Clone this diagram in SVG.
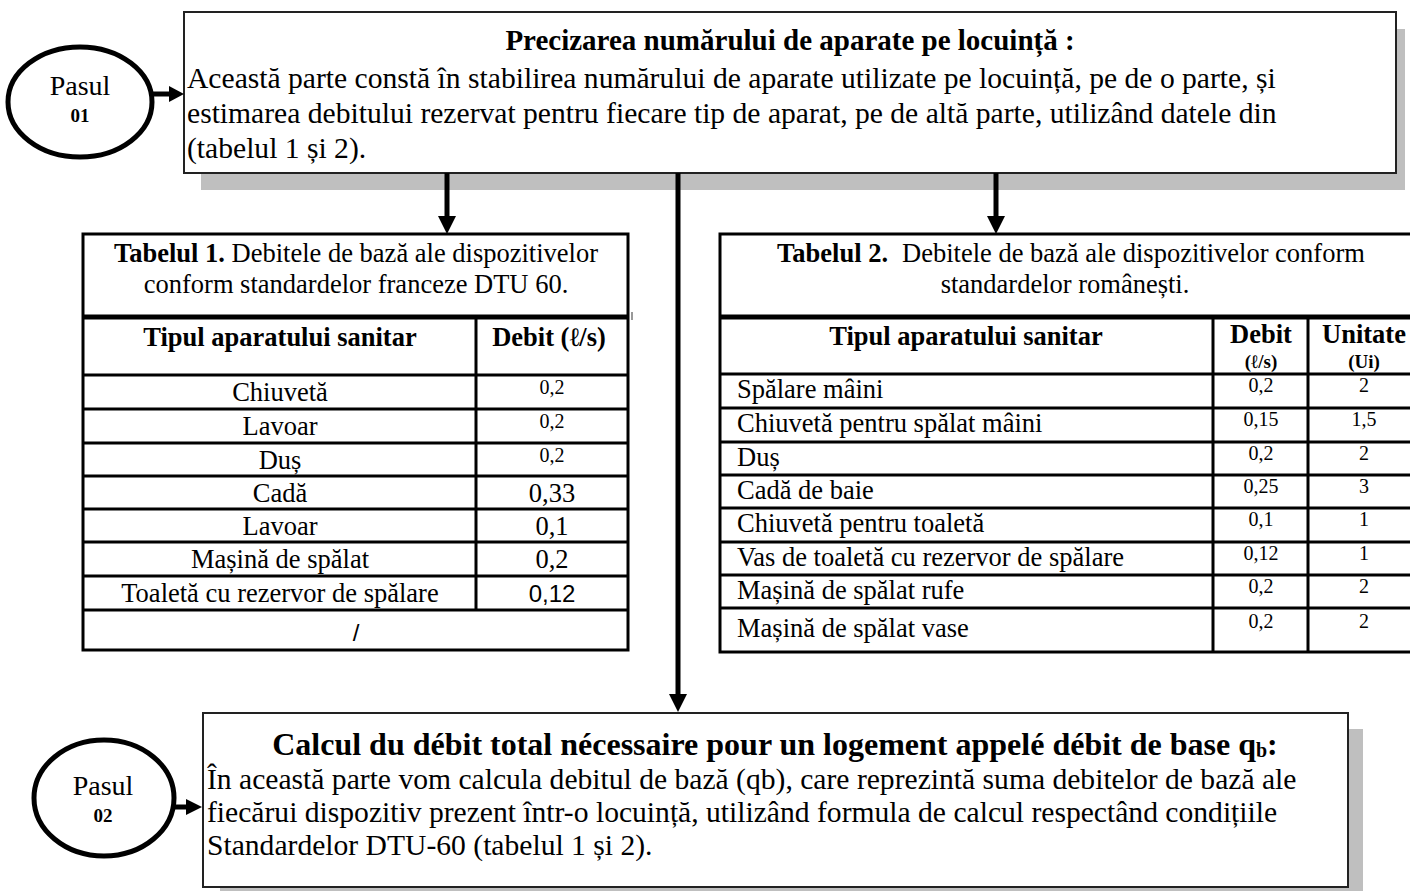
<svg xmlns="http://www.w3.org/2000/svg" width="1410" height="891" viewBox="0 0 1410 891">
<style>
.t{font-family:"Liberation Serif","Times New Roman",serif;fill:#000}
.b{font-weight:bold}
.body{font-size:29.6px}
.cell{font-size:26.5px}
.sm{font-size:20px}
.sans{font-family:"Liberation Sans",Arial,sans-serif}
.box{fill:#fff;stroke:#222;stroke-width:2}
.shadow{fill:#bfbfbf}
.grid{stroke:#000;stroke-width:3;fill:none}
.sep{stroke:#000;stroke-width:5}
.conn{stroke:#000;stroke-width:5;fill:none}
.head{fill:#000}
.step{fill:#fff;stroke:#000;stroke-width:5}
.m{text-anchor:middle}
</style>
<rect width="1410" height="891" fill="#fff"/>

<g id="box1">
<rect class="shadow" x="201" y="29" width="1204" height="161"/>
<rect class="box" x="184" y="12" width="1212" height="161"/>
<text class="t b m" x="790" y="50" font-size="29">Precizarea numărului de aparate pe locuință :</text>
<text class="t body" x="187" y="88">Această parte constă în stabilirea numărului de aparate utilizate pe locuință, pe de o parte, și</text>
<text class="t body" x="187" y="123">estimarea debitului rezervat pentru fiecare tip de aparat, pe de altă parte, utilizând datele din</text>
<text class="t body" x="187" y="158">(tabelul 1 și 2).</text>
</g>

<g id="step1">
<ellipse class="step" cx="80" cy="102" rx="72" ry="55"/>
<text class="t m" x="80" y="95" font-size="28">Pasul</text>
<text class="t b m" x="80" y="122" font-size="19">01</text>
</g>

<g id="table1">
<rect class="grid" x="83" y="234" width="545" height="416" fill="#fff"/>
<line class="sep" x1="83" y1="317" x2="628" y2="317"/>
<rect x="631" y="312" width="2" height="8" fill="#999"/>
<g class="grid">
<line x1="83" y1="375" x2="628" y2="375"/>
<line x1="83" y1="409" x2="628" y2="409"/>
<line x1="83" y1="443" x2="628" y2="443"/>
<line x1="83" y1="476" x2="628" y2="476"/>
<line x1="83" y1="509" x2="628" y2="509"/>
<line x1="83" y1="542" x2="628" y2="542"/>
<line x1="83" y1="576" x2="628" y2="576"/>
<line x1="83" y1="610" x2="628" y2="610"/>
<line x1="476" y1="317" x2="476" y2="610"/>
</g>
<text class="t cell m" x="356" y="262"><tspan class="b">Tabelul 1.</tspan> Debitele de bază ale dispozitivelor</text>
<text class="t cell m" x="356" y="293">conform standardelor franceze DTU 60.</text>
<text class="t cell b m" x="280" y="346">Tipul aparatului sanitar</text>
<text class="t cell b m" x="549" y="346">Debit (ℓ/s)</text>
<text class="t cell m" x="280" y="401">Chiuvetă</text>
<text class="t sm m" x="552" y="394">0,2</text>
<text class="t cell m" x="280" y="435">Lavoar</text>
<text class="t sm m" x="552" y="428">0,2</text>
<text class="t cell m" x="280" y="469">Duș</text>
<text class="t sm m" x="552" y="462">0,2</text>
<text class="t cell m" x="280" y="502">Cadă</text>
<text class="t cell m" x="552" y="502">0,33</text>
<text class="t cell m" x="280" y="535">Lavoar</text>
<text class="t cell m" x="552" y="535">0,1</text>
<text class="t cell m" x="280" y="568">Mașină de spălat</text>
<text class="t cell m" x="552" y="568">0,2</text>
<text class="t cell m" x="280" y="602">Toaletă cu rezervor de spălare</text>
<text class="t sans m" x="552" y="602" font-size="24">0,12</text>
<text class="t sans m" x="356" y="641" font-size="24">/</text>
</g>

<g id="table2">
<rect class="grid" x="720" y="234" width="694" height="418" fill="#fff"/>
<line class="sep" x1="720" y1="317" x2="1414" y2="317"/>
<g class="grid">
<line x1="720" y1="374" x2="1414" y2="374"/>
<line x1="720" y1="408" x2="1414" y2="408"/>
<line x1="720" y1="442" x2="1414" y2="442"/>
<line x1="720" y1="475" x2="1414" y2="475"/>
<line x1="720" y1="508" x2="1414" y2="508"/>
<line x1="720" y1="542" x2="1414" y2="542"/>
<line x1="720" y1="575" x2="1414" y2="575"/>
<line x1="720" y1="608" x2="1414" y2="608"/>
<line x1="1213" y1="317" x2="1213" y2="652"/>
<line x1="1308" y1="317" x2="1308" y2="652"/>
</g>
<text class="t cell m" x="1071" y="262"><tspan class="b">Tabelul 2.</tspan><tspan dx="14">Debitele de bază ale dispozitivelor conform</tspan></text>
<text class="t cell m" x="1065" y="293">standardelor românești.</text>
<text class="t cell b m" x="966" y="345">Tipul aparatului sanitar</text>
<text class="t cell b m" x="1261" y="343">Debit</text>
<text class="t b m" x="1261" y="368" font-size="19">(ℓ/s)</text>
<text class="t cell b m" x="1364" y="343">Unitate</text>
<text class="t b m" x="1364" y="368" font-size="19">(Ui)</text>

<text class="t cell" x="737" y="398">Spălare mâini</text>
<text class="t sm m" x="1261" y="392">0,2</text><text class="t sm m" x="1364" y="392">2</text>
<text class="t cell" x="737" y="432">Chiuvetă pentru spălat mâini</text>
<text class="t sm m" x="1261" y="426">0,15</text><text class="t sm m" x="1364" y="426">1,5</text>
<text class="t cell" x="737" y="466">Duș</text>
<text class="t sm m" x="1261" y="460">0,2</text><text class="t sm m" x="1364" y="460">2</text>
<text class="t cell" x="737" y="499">Cadă de baie</text>
<text class="t sm m" x="1261" y="493">0,25</text><text class="t sm m" x="1364" y="493">3</text>
<text class="t cell" x="737" y="532">Chiuvetă pentru toaletă</text>
<text class="t sm m" x="1261" y="526">0,1</text><text class="t sm m" x="1364" y="526">1</text>
<text class="t cell" x="737" y="566">Vas de toaletă cu rezervor de spălare</text>
<text class="t sm m" x="1261" y="560">0,12</text><text class="t sm m" x="1364" y="560">1</text>
<text class="t cell" x="737" y="599">Mașină de spălat rufe</text>
<text class="t sm m" x="1261" y="593">0,2</text><text class="t sm m" x="1364" y="593">2</text>
<text class="t cell" x="737" y="637">Mașină de spălat vase</text>
<text class="t sm m" x="1261" y="628">0,2</text><text class="t sm m" x="1364" y="628">2</text>
</g>

<g id="box2">
<rect class="shadow" x="220" y="729" width="1143" height="174"/>
<rect class="box" x="203" y="713" width="1145" height="174"/>
<text class="t b m" x="775" y="755" font-size="32">Calcul du débit total nécessaire pour un logement appelé débit de base q<tspan font-size="20" dy="2">b</tspan><tspan dy="-2">:</tspan></text>
<text class="t body" x="207" y="789">În această parte vom calcula debitul de bază (qb), care reprezintă suma debitelor de bază ale</text>
<text class="t body" x="207" y="822">fiecărui dispozitiv prezent într-o locuință, utilizând formula de calcul respectând condițiile</text>
<text class="t body" x="207" y="855">Standardelor DTU-60 (tabelul 1 și 2).</text>
</g>

<g id="step2">
<ellipse class="step" cx="104" cy="798" rx="70" ry="58"/>
<text class="t m" x="103" y="795" font-size="28">Pasul</text>
<text class="t b m" x="103" y="822" font-size="19">02</text>
</g>

<g id="connectors">
<line class="conn" x1="152" y1="94" x2="172" y2="94" stroke-width="3"/>
<polygon class="head" points="169,86 184,94 169,102"/>
<line class="conn" x1="175" y1="807" x2="188" y2="807" stroke-width="3"/>
<polygon class="head" points="186,799 202,807 186,815"/>
<line class="conn" x1="447" y1="173" x2="447" y2="218"/>
<polygon class="head" points="438,216 456,216 447,234"/>
<line class="conn" x1="678" y1="173" x2="678" y2="696"/>
<polygon class="head" points="669,694 687,694 678,712"/>
<line class="conn" x1="996" y1="173" x2="996" y2="218"/>
<polygon class="head" points="987,216 1005,216 996,234"/>
</g>
</svg>
